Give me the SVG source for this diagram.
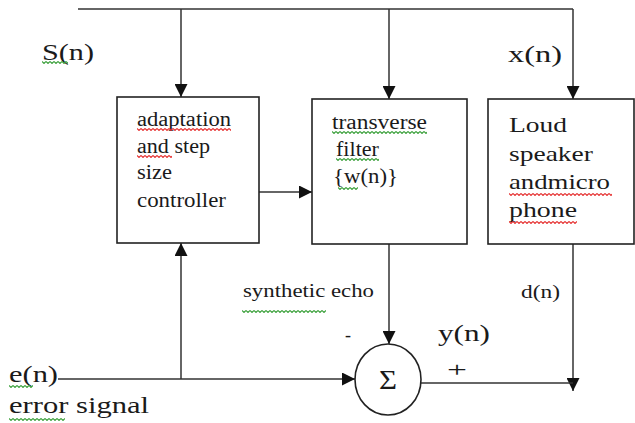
<svg xmlns="http://www.w3.org/2000/svg" width="635" height="423" viewBox="0 0 635 423">
<style>
.t{font-family:"Liberation Serif","Times New Roman",serif;fill:#1a1a1a}
.box{fill:#fff;stroke:#222;stroke-width:1.6}
.ln{fill:none;stroke:#333;stroke-width:1.5}
</style>
<defs>
<marker id="ah" viewBox="0 0 10 10" refX="10" refY="5" markerWidth="13" markerHeight="13" markerUnits="userSpaceOnUse" orient="auto">
<path d="M0,0 L10,5 L0,10 z" fill="#111"/>
</marker>
<pattern id="sqG" width="4" height="3" patternUnits="userSpaceOnUse">
<polyline points="0,0.5 2,2.5 4,0.5" fill="none" stroke="#3aa03a" stroke-width="1.1"/>
</pattern>
<pattern id="sqR" width="4" height="3" patternUnits="userSpaceOnUse">
<polyline points="0,0.5 2,2.5 4,0.5" fill="none" stroke="#e53030" stroke-width="1.1"/>
</pattern>
</defs>
<rect width="635" height="423" fill="#fff"/>

<g id="connectors">
<path class="ln" d="M78,9 H573"/>
<path class="ln" d="M181,9 V97" marker-end="url(#ah)"/>
<path class="ln" d="M389,9 V99" marker-end="url(#ah)"/>
<path class="ln" d="M573,9 V99" marker-end="url(#ah)"/>
<path class="ln" d="M259,192 H312" marker-end="url(#ah)"/>
<path class="ln" d="M58,379 H355" marker-end="url(#ah)"/>
<path class="ln" d="M181,379 V243" marker-end="url(#ah)"/>
<path class="ln" d="M389,244 V344" marker-end="url(#ah)"/>
<path class="ln" d="M573,244 V391" marker-end="url(#ah)"/>
<path class="ln" d="M421,383 H573"/>
</g>

<g id="adaptation">
<rect class="box" x="117" y="97" width="142" height="146"/>
<text class="t" font-size="20" x="137" y="126" textLength="94" lengthAdjust="spacingAndGlyphs">adaptation</text>
<text class="t" font-size="20" x="137" y="153" textLength="73" lengthAdjust="spacingAndGlyphs">and step</text>
<text class="t" font-size="20" x="137" y="179" textLength="35" lengthAdjust="spacingAndGlyphs">size</text>
<text class="t" font-size="20" x="137" y="207" textLength="89" lengthAdjust="spacingAndGlyphs">controller</text>
<rect transform="translate(137,128)" width="94" height="3" fill="url(#sqR)"/>
<rect transform="translate(137,155)" width="35" height="3" fill="url(#sqR)"/>
</g>

<g id="filter">
<rect class="box" x="312" y="99" width="155" height="145"/>
<text class="t" font-size="20" x="332" y="129" textLength="95" lengthAdjust="spacingAndGlyphs">transverse</text>
<text class="t" font-size="20" x="336" y="156" textLength="43" lengthAdjust="spacingAndGlyphs">filter</text>
<text class="t" font-size="20" x="333" y="183" textLength="65" lengthAdjust="spacingAndGlyphs">{w(n)}</text>
<rect transform="translate(332,131)" width="95" height="3" fill="url(#sqG)"/>
<rect transform="translate(336,158)" width="43" height="3" fill="url(#sqG)"/>
<rect transform="translate(338,187)" width="20" height="3" fill="url(#sqG)"/>
</g>

<g id="speaker">
<rect class="box" x="488" y="99" width="146" height="145"/>
<text class="t" font-size="21" x="509" y="132" textLength="58" lengthAdjust="spacingAndGlyphs">Loud</text>
<text class="t" font-size="21" x="509" y="161" textLength="84" lengthAdjust="spacingAndGlyphs">speaker</text>
<text class="t" font-size="21" x="509" y="189" textLength="101" lengthAdjust="spacingAndGlyphs">andmicro</text>
<text class="t" font-size="21" x="509" y="217" textLength="68" lengthAdjust="spacingAndGlyphs">phone</text>
<rect transform="translate(509,193)" width="103" height="3" fill="url(#sqR)"/>
<rect transform="translate(509,221)" width="68" height="3" fill="url(#sqR)"/>
</g>

<g id="sum">
<ellipse cx="388" cy="379.5" rx="33" ry="35.5" fill="#fff" stroke="#222" stroke-width="1.6"/>
<text class="t" font-size="28" x="379" y="389" textLength="18" lengthAdjust="spacingAndGlyphs">Σ</text>
</g>

<g id="labels">
<text class="t" font-size="23" x="42" y="60" textLength="52" lengthAdjust="spacingAndGlyphs">S(n)</text>
<rect transform="translate(42,61)" width="26" height="3" fill="url(#sqG)"/>
<text class="t" font-size="23" x="508" y="62" textLength="54" lengthAdjust="spacingAndGlyphs">x(n)</text>
<text class="t" font-size="18" x="243" y="297" textLength="131" lengthAdjust="spacingAndGlyphs">synthetic echo</text>
<rect transform="translate(242,310)" width="84" height="3" fill="url(#sqG)"/>
<text class="t" font-size="18" x="521" y="298" textLength="39" lengthAdjust="spacingAndGlyphs">d(n)</text>
<text class="t" font-size="18" x="345" y="341" textLength="6" lengthAdjust="spacingAndGlyphs">-</text>
<text class="t" font-size="23" x="438" y="341" textLength="52" lengthAdjust="spacingAndGlyphs">y(n)</text>
<text class="t" font-size="22" x="447" y="377" textLength="20" lengthAdjust="spacingAndGlyphs">+</text>
<text class="t" font-size="23" x="9" y="382" textLength="49" lengthAdjust="spacingAndGlyphs">e(n)</text>
<rect transform="translate(9,385)" width="24" height="3" fill="url(#sqG)"/>
<text class="t" font-size="23" x="9" y="413" textLength="140" lengthAdjust="spacingAndGlyphs">error signal</text>
<rect transform="translate(9,418)" width="56" height="3" fill="url(#sqG)"/>
</g>
</svg>
